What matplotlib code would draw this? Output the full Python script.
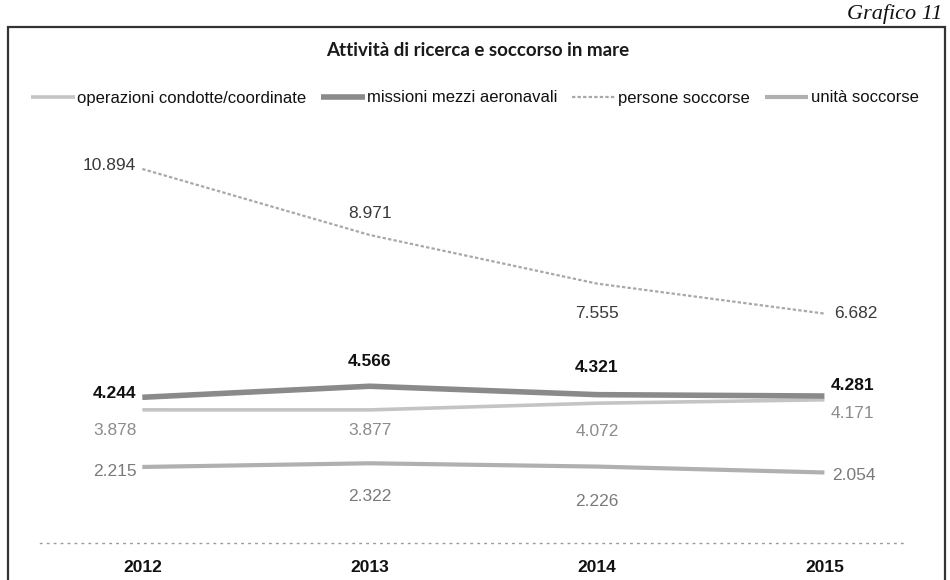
import matplotlib
matplotlib.use("Agg")
import matplotlib.pyplot as plt
from matplotlib.patches import Rectangle

years = ["2012", "2013", "2014", "2015"]
operazioni = [3878, 3877, 4072, 4171]
missioni = [4244, 4566, 4321, 4281]
persone = [10894, 8971, 7555, 6682]
unita = [2215, 2322, 2226, 2054]

series_names = ["operazioni condotte/coordinate", "missioni mezzi aeronavali",
                "persone soccorse", "unità soccorse"]

NARROW = ["Liberation Sans Narrow", "Liberation Sans", "DejaVu Sans"]

W, H = 950, 580
fig = plt.figure(figsize=(W / 100, H / 100), dpi=100)
fig.patch.set_facecolor("white")

ax = fig.add_axes([40 / W, 1 - 543 / H, (904 - 40) / W, (543 - 131) / H])
ax.set_xlim(-0.45, 3.35)
ax.set_ylim(0, 12000)
x = list(range(len(years)))

styles = {
    "operazioni": dict(color="#c4c4c4", lw=2.6, ls="-"),
    "missioni": dict(color="#8a8a8a", lw=4.0, ls="-"),
    "persone": dict(color="#a8a8a8", lw=1.6, ls=(0, (1.5, 1))),
    "unita": dict(color="#b0b0b0", lw=3.0, ls="-"),
}
data = {"operazioni": operazioni, "missioni": missioni, "persone": persone, "unita": unita}
handles = []
for key, name in zip(["operazioni", "missioni", "persone", "unita"], series_names):
    st = styles[key]
    (ln,) = ax.plot(x, data[key], color=st["color"], lw=st["lw"], ls=st["ls"],
                    solid_capstyle="butt", label=name)
    handles.append(ln)

def fmt(v):
    return f"{v:,}".replace(",", ".")

# label placement: (ha, dx, dy) in pixels
place = {
    "persone": [("right", -6, 3), ("center", 0, 21), ("center", 0, -30), ("left", 10, 0)],
    "missioni": [("right", -6, 4), ("center", 0, 25), ("center", 0, 27), ("left", 6, 11)],
    "operazioni": [("right", -6, -21), ("center", 0, -21), ("center", 0, -28), ("left", 6, -14)],
    "unita": [("right", -6, -5), ("center", 0, -33), ("center", 0, -35), ("left", 8, -3)],
}
lab_style = {
    "persone": dict(color="#3a3a3a", fontweight="normal"),
    "missioni": dict(color="#111111", fontweight="bold"),
    "operazioni": dict(color="#8c8c8c", fontweight="normal"),
    "unita": dict(color="#7a7a7a", fontweight="normal"),
}
for key in ["persone", "missioni", "operazioni", "unita"]:
    for i, v in enumerate(data[key]):
        ha, dx, dy = place[key][i]
        ax.annotate(fmt(v), (x[i], v), xytext=(dx, dy), textcoords="offset pixels",
                    ha=ha, va="center", fontsize=12.5, family=NARROW, **lab_style[key])

for s in ["top", "right", "left"]:
    ax.spines[s].set_visible(False)
ax.spines["bottom"].set_color("#9a9a9a")
ax.spines["bottom"].set_linestyle((0, (1, 4)))
ax.spines["bottom"].set_linewidth(1.0)
ax.set_yticks([])
ax.set_xticks(x)
ax.set_xticklabels(years, fontsize=12.5, fontweight="bold", family=NARROW, color="#111111")
ax.tick_params(axis="x", length=0, pad=12)

# title
fig.text(478 / W, 1 - 50 / H, "Attività di ricerca e soccorso in mare", ha="center", va="center",
         fontsize=13.5, fontweight="bold", family=["Lato", "DejaVu Sans"], color="#1a1a1a")

# legend
leg = fig.legend(handles=handles, labels=series_names, loc="center",
                 bbox_to_anchor=(475 / W, 1 - 98 / H), ncol=4, frameon=False,
                 handlelength=2.6, handletextpad=0.15, columnspacing=0.9,
                 prop=dict(family=NARROW, size=12))
for t in leg.get_texts():
    t.set_color("#111111")

# outer frame
fig.add_artist(Rectangle((8 / W, -0.01), (945 - 8) / W, 1 - 27 / H + 0.01, transform=fig.transFigure,
                         fill=False, edgecolor="#333333", lw=1.6))
# caption at top right
fig.text(942 / W, 1 - 24 / H, "Grafico 11", ha="right", va="bottom", fontsize=16,
         style="italic", family=["Liberation Serif", "DejaVu Serif"], color="#111111")

fig.savefig("out.png", dpi=100, facecolor="white")
